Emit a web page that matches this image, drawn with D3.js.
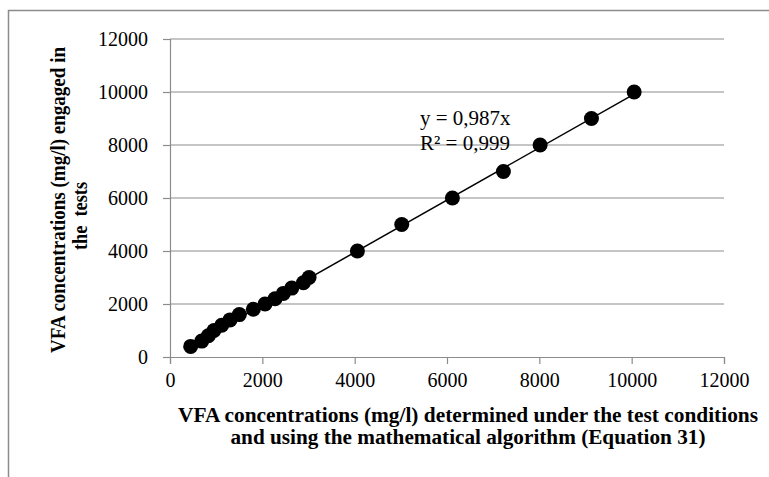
<!DOCTYPE html>
<html>
<head>
<meta charset="utf-8">
<script src="https://cdn.jsdelivr.net/npm/d3@7"></script>
<style>
    body { margin: 0; background: #fff; }
    svg { display: block; }
    svg text { font-family: "Liberation Serif", "Times New Roman", serif; fill: #000; }
</style>
</head>
<body>
<div id="chart"></div>
<script>
// measured points (x = algorithm, y = engaged in tests)
const xValues = [448, 687, 830, 953, 1120, 1300, 1502, 1805, 2058, 2275, 2455, 2637, 2889, 3012,
    4059, 5020, 6117, 7222, 8017, 9129, 10054];
const yValues = [400, 600, 800, 1000, 1200, 1400, 1600, 1800, 2000, 2200, 2400, 2600, 2800, 3000,
    4000, 5000, 6000, 7000, 8000, 9000, 10000];
const tickValues = [0, 2000, 4000, 6000, 8000, 10000, 12000];
const slope = 0.987;
const equationLines = ['y = 0,987x', 'R² = 0,999'];
const xTitle = ['VFA concentrations (mg/l) determined under the test conditions',
    'and using the mathematical algorithm (Equation 31)'];
const yTitle = ['VFA concentrations (mg/l) engaged in', 'the  tests'];

const width = 769, height = 477;
const margin = { left: 170, right: 45, top: 39, bottom: 120 };
const grey = '#8c8c8c';

const svg = d3.select('#chart')
    .append('svg')
    .attr('width', width)
    .attr('height', height);

// outer chart frame (only top & left edges are in view)
svg.append('path')
    .attr('d', `M8.5,${height} V10.5 H${width}`)
    .attr('fill', 'none')
    .attr('stroke', grey)
    .attr('stroke-width', 1.5);

const x = d3.scaleLinear().domain([0, 12000]).range([margin.left, width - margin.right]);
const y = d3.scaleLinear().domain([0, 12000]).range([height - margin.bottom, margin.top]);

// gridlines
svg.append('g')
    .selectAll('line')
    .data(tickValues.slice(1))
    .join('line')
    .attr('x1', x(0)).attr('x2', x(12000))
    .attr('y1', d => y(d)).attr('y2', d => y(d))
    .attr('stroke', grey)
    .attr('stroke-width', 1.2);

// axes
const xAxis = svg.append('g')
    .attr('transform', `translate(0,${y(0)})`)
    .call(d3.axisBottom(x).tickValues(tickValues).tickSize(7).tickPadding(9).tickFormat(d3.format('d')));
const yAxis = svg.append('g')
    .attr('transform', `translate(${x(0)},0)`)
    .call(d3.axisLeft(y).tickValues(tickValues).tickSize(7).tickPadding(15).tickFormat(d3.format('d')));

[xAxis, yAxis].forEach(a => {
    a.attr('font-family', null).attr('font-size', null);
    a.select('.domain').attr('stroke', grey).attr('stroke-width', 1.2);
    a.selectAll('.tick line').attr('stroke', grey).attr('stroke-width', 1.2);
    a.selectAll('.tick text')
        .attr('fill', '#000')
        .style('font-size', '20px');
});
xAxis.selectAll('.tick text').attr('dy', '0.72em');
yAxis.selectAll('.tick text').attr('dy', '0.34em');

// trendline through origin
const xMin = d3.min(xValues), xMax = d3.max(xValues);
svg.append('line')
    .attr('x1', x(xMin)).attr('y1', y(slope * xMin))
    .attr('x2', x(xMax)).attr('y2', y(slope * xMax))
    .attr('stroke', '#000')
    .attr('stroke-width', 1.5);

// markers
svg.append('g')
    .selectAll('circle')
    .data(xValues.map((v, i) => [v, yValues[i]]))
    .join('circle')
    .attr('cx', d => x(d[0]))
    .attr('cy', d => y(d[1]))
    .attr('r', 7.5)
    .attr('fill', '#000');

// equation label
svg.append('g')
    .selectAll('text')
    .data(equationLines)
    .join('text')
    .attr('x', 420)
    .attr('y', (d, i) => 125 + i * 25)
    .style('font-size', '21px')
    .text(d => d);

// x axis title
svg.append('g')
    .selectAll('text')
    .data(xTitle)
    .join('text')
    .attr('x', 468)
    .attr('y', (d, i) => 422 + i * 22)
    .attr('text-anchor', 'middle')
    .attr('textLength', (d, i) => i === 0 ? 580 : 475)
    .attr('lengthAdjust', 'spacingAndGlyphs')
    .style('font-size', '20px')
    .style('font-weight', 'bold')
    .text(d => d);

// y axis title
svg.append('g')
    .selectAll('text')
    .data(yTitle)
    .join('text')
    .attr('transform', (d, i) => i === 0 ? 'translate(65,200) rotate(-90)' : 'translate(87,216) rotate(-90)')
    .attr('text-anchor', 'middle')
    .attr('textLength', (d, i) => i === 0 ? 306 : 68)
    .attr('lengthAdjust', 'spacingAndGlyphs')
    .style('font-size', '20px')
    .style('font-weight', 'bold')
    .style('white-space', 'pre')
    .text(d => d);
</script>
</body>
</html>
